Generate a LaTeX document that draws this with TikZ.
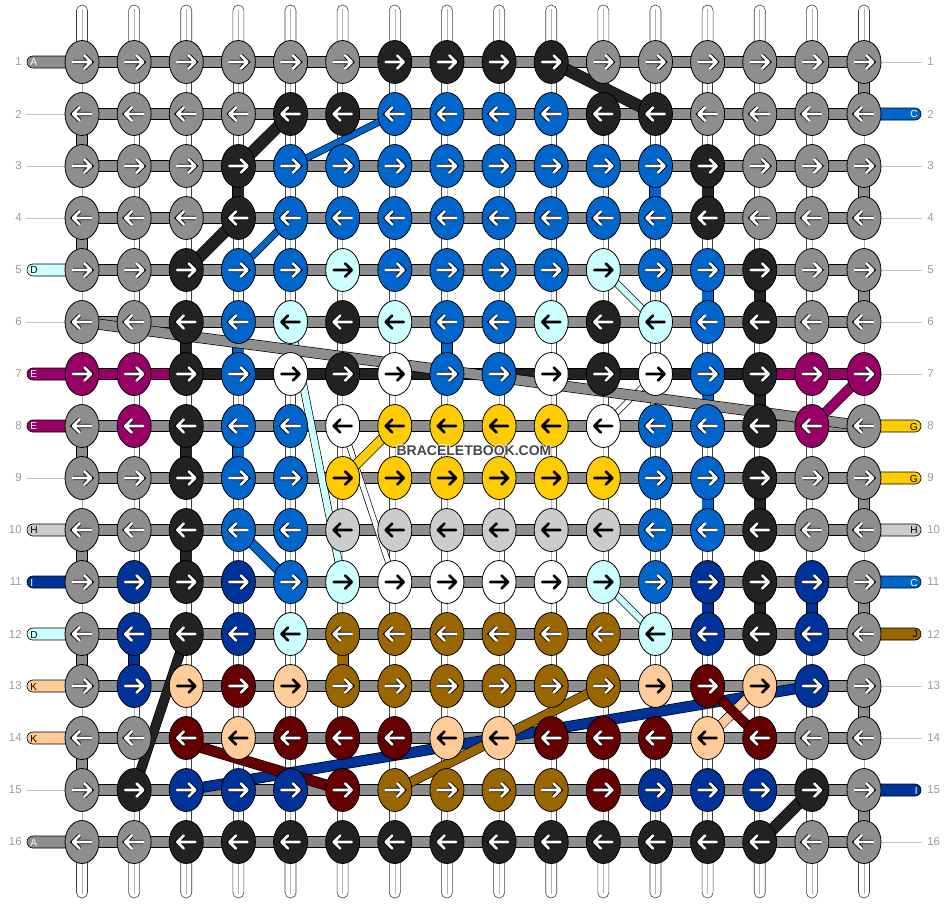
\documentclass[tikz,border=0pt]{standalone}
\usepackage{fontspec}
\setmainfont{Liberation Sans}
\usetikzlibrary{shapes.geometric,calc}
\definecolor{cola}{HTML}{8E8E8E}
\definecolor{colb}{HTML}{222222}
\definecolor{colc}{HTML}{0066CC}
\definecolor{cold}{HTML}{CCFFFF}
\definecolor{cole}{HTML}{990066}
\definecolor{colf}{HTML}{FFFFFF}
\definecolor{colg}{HTML}{FFCC00}
\definecolor{colh}{HTML}{CCCCCC}
\definecolor{coli}{HTML}{003399}
\definecolor{colj}{HTML}{996600}
\definecolor{colk}{HTML}{FFCC99}
\definecolor{coll}{HTML}{660000}
\definecolor{numgray}{HTML}{999999}
\definecolor{linegray}{HTML}{C4C4C4}
\begin{document}
\begin{tikzpicture}[x=0.75pt,y=-0.75pt,
  knot/.style={ellipse, draw=black, line width=0.6pt, minimum width=25.5pt, minimum height=32.2pt, inner sep=0pt},
  hbar/.style={draw=black, line width=0.5pt, double=col#1, double distance=8pt},
  strand/.style={draw=black!75, line width=0.45pt, double=white, double distance=7.3pt},
  midline/.style={draw=black!30, line width=0.4pt},
  warr/.style={draw=white, line width=2pt, line cap=round, line join=round, preaction={draw=black, line width=3.3pt}},
  barr/.style={draw=black, line width=2pt, line cap=round, line join=round},
  arr-a/.style={warr}, arr-b/.style={warr}, arr-c/.style={warr}, arr-e/.style={warr},
  arr-i/.style={warr}, arr-j/.style={warr}, arr-l/.style={warr},
  arr-d/.style={barr}, arr-f/.style={barr}, arr-g/.style={barr}, arr-h/.style={barr}, arr-k/.style={barr},
  tc-a/.style={text=white}, tc-b/.style={text=white}, tc-c/.style={text=white}, tc-e/.style={text=white},
  tc-i/.style={text=white}, tc-j/.style={text=black}, tc-l/.style={text=white},
  tc-d/.style={text=black}, tc-f/.style={text=black}, tc-g/.style={text=black}, tc-h/.style={text=black}, tc-k/.style={text=black},
  pill/.style={draw=black, line width=0.5pt, rounded corners=4.5pt},
  num/.style={text=numgray, font=\fontsize{8.6}{10}\selectfont, inner sep=0pt},
  lab/.style={font=\fontsize{7.6}{9}\selectfont, inner sep=0pt},
  wmark/.style={font=\bfseries\fontsize{10.5}{12}\selectfont}
]
\useasboundingbox (0,0) rectangle (948,904);
% grid coordinates
\foreach \r in {1,...,16}{
  \foreach \c in {1,...,16}{
    \coordinate (p-\r-\c) at ({82+(\c-1)*52.133},{62+(\r-1)*52});
  }
  \coordinate (L-\r) at (27,{62+(\r-1)*52});
  \coordinate (R-\r) at (921,{62+(\r-1)*52});
}
\foreach \c in {1,...,16}{
  \coordinate (T-\c) at ({82+(\c-1)*52.133},5);
  \coordinate (B-\c) at ({82+(\c-1)*52.133},898);
}
% top and bottom strand ends
\foreach \c in {1,...,16}{
  \draw[fill=white, draw=black!75, line width=0.45pt, rounded corners=4pt]
    ($(T-\c)+(-5.5,0)$) rectangle ($(p-1-\c)+(5.5,0)$);
  \draw[midline] ($(T-\c)+(0,4)$) -- (p-1-\c);
  \draw[fill=white, draw=black!75, line width=0.45pt, rounded corners=4pt]
    ($(p-16-\c)+(-5.5,0)$) rectangle ($(B-\c)+(5.5,0)$);
  \draw[midline] (p-16-\c) -- ($(B-\c)+(0,-4)$);
}
% vertical white strands between rows
\foreach \r [evaluate=\r as \rr using int(\r+1)] in {1,...,15}{
  \foreach \c in {1,...,16}{
    \draw[strand] (p-\r-\c) -- (p-\rr-\c);
    \draw[midline] (p-\r-\c) -- (p-\rr-\c);
  }
}
% coloured vertical connectors (row r to r+1, column c)
\foreach \r/\c/\k in {
  1/16/a, 3/16/a, 5/16/a, 9/16/a, 11/16/a, 13/16/a, 15/16/a,
  2/1/a, 4/1/a, 8/1/a, 10/1/a, 12/1/a, 14/1/a,
  3/4/b, 3/13/b, 6/3/b, 8/3/b, 10/3/b, 5/14/b, 7/14/b, 9/14/b, 11/14/b,
  3/12/c, 5/13/c, 7/13/c, 9/13/c, 6/8/c, 6/4/c, 8/4/c,
  12/2/i, 11/13/i, 11/15/i, 12/6/j}{
  \pgfmathtruncatemacro\rr{\r+1}
  \draw[hbar=\k] (p-\r-\c) -- (p-\rr-\c);
}
% horizontal bars
\foreach \r in {1,...,16}{
  \foreach \c [evaluate=\c as \cc using int(\c+1)] in {1,...,15}{
    \draw[hbar=a] (p-\r-\c) -- (p-\r-\cc);
  }
}
\foreach \r/\c/\k in {7/1/e, 7/2/e, 7/3/b, 7/4/b, 7/5/b, 7/6/b, 7/7/b, 7/8/b, 7/9/b,
  7/10/b, 7/11/b, 7/12/b, 7/13/b, 7/14/e, 7/15/e}{
  \pgfmathtruncatemacro\cc{\c+1}
  \draw[hbar=\k] (p-\r-\c) -- (p-\r-\cc);
}
% edge labels and lines
\foreach \r/\k/\t in {1/a/A, 5/d/D, 7/e/E, 8/e/E, 10/h/H, 11/i/I, 12/d/D, 13/k/K, 14/k/K, 16/a/A}{
  \draw[pill, fill=col\k] ($(L-\r)+(0,-6)$) rectangle ($(p-\r-1)+(0,6)$);
  \node[lab, tc-\k, anchor=west] at ($(L-\r)+(3,0.5)$) {\t};
}
\foreach \r in {2,3,4,6,9,15}{
  \draw[linegray, line width=0.75pt] ($(L-\r)+(-1,0)$) -- (p-\r-1);
}
\foreach \r/\k/\t in {2/c/C, 8/g/G, 9/g/G, 10/h/H, 11/c/C, 12/j/J, 15/i/I}{
  \draw[pill, fill=col\k] ($(p-\r-16)+(0,-6)$) rectangle ($(R-\r)+(0,6)$);
  \node[lab, tc-\k, anchor=east] at ($(R-\r)+(-3,0.5)$) {\t};
}
\foreach \r in {1,3,4,5,6,7,13,14,16}{
  \draw[linegray, line width=0.75pt] (p-\r-16) -- ($(R-\r)+(1,0)$);
}
\foreach \r in {1,...,16}{
  \node[num, anchor=east] (nl-\r) at ($(L-\r)+(-5,0)$) {\r};
  \node[num, anchor=west] (nr-\r) at ($(R-\r)+(6,0)$) {\r};
}
% diagonal bands (from knot to knot)
\foreach \ra/\ca/\rb/\cb/\k/\w in {1/10/2/12/b/8, 2/5/3/4/b/8, 2/7/3/5/c/4.5, 4/4/5/3/b/8, 4/5/5/4/c/4.5,
  5/11/6/12/d/4.5, 6/5/11/6/d/5, 7/12/8/11/f/3.5, 8/6/11/7/f/3.5, 8/7/9/6/g/6.5, 10/4/11/5/c/6.5,
  11/11/12/12/d/4.5, 12/3/15/2/b/6.5, 15/3/13/15/i/7.25, 15/7/13/11/j/6.5,
  13/14/14/13/k/6.5, 13/13/14/14/l/6.5, 15/15/16/14/b/8, 7/16/8/15/e/6.5, 6/1/8/16/a/7.25}{
  \draw[draw=black, line width=0.5pt, double=col\k, double distance=\w pt] (p-\ra-\ca) -- (p-\rb-\cb);
}
\draw[draw=black, line width=0.5pt, double=coll, double distance=7.25pt] ($(p-14-3)+(0,5)$) -- (p-15-6);
% knots
\foreach \row [count=\r] in {
 {a,a,a,a,a,a,b,b,b,b,a,a,a,a,a,a},
 {a,a,a,a,b,b,c,c,c,c,b,b,a,a,a,a},
 {a,a,a,b,c,c,c,c,c,c,c,c,b,a,a,a},
 {a,a,a,b,c,c,c,c,c,c,c,c,b,a,a,a},
 {a,a,b,c,c,d,c,c,c,c,d,c,c,b,a,a},
 {a,a,b,c,d,b,d,c,c,d,b,d,c,b,a,a},
 {e,e,b,c,f,b,f,c,c,f,b,f,c,b,e,e},
 {a,e,b,c,c,f,g,g,g,g,f,c,c,b,e,a},
 {a,a,b,c,c,g,g,g,g,g,g,c,c,b,a,a},
 {a,a,b,c,c,h,h,h,h,h,h,c,c,b,a,a},
 {a,i,b,i,c,d,f,f,f,f,d,c,i,b,i,a},
 {a,i,b,i,d,j,j,j,j,j,j,d,i,b,i,a},
 {a,i,k,l,k,j,j,j,j,j,j,k,l,k,i,a},
 {a,a,l,k,l,l,l,k,k,l,l,l,k,l,a,a},
 {a,b,i,i,i,l,j,j,j,j,l,i,i,i,b,a},
 {a,a,b,b,b,b,b,b,b,b,b,b,b,b,a,a}}{
  \pgfmathtruncatemacro\dir{ifthenelse(mod(\r,2)==1,1,-1)}
  \foreach \k [count=\c] in \row {
    \node[knot, fill=col\k] (k-\r-\c) at (p-\r-\c) {};
    \draw[arr-\k, shift={(p-\r-\c)}, xscale=\dir] (-9,0) -- (9,0) (2.5,-6.5) -- (9,0) -- (2.5,6.5);
  }
}
% watermark with a light halo
\coordinate (wmc) at (474,451);
\foreach \dx/\dy [count=\i] in {-1/0, 1/0, 0/-1, 0/1, -0.7/-0.7, 0.7/0.7, -0.7/0.7, 0.7/-0.7}{
  \node[wmark, text=white] (wmh-\i) at ($(wmc)+(\dx,\dy)$) {BRACELETBOOK.COM};
}
\node[wmark, text=black!72] (wm) at (wmc) {BRACELETBOOK.COM};
\end{tikzpicture}
\end{document}
